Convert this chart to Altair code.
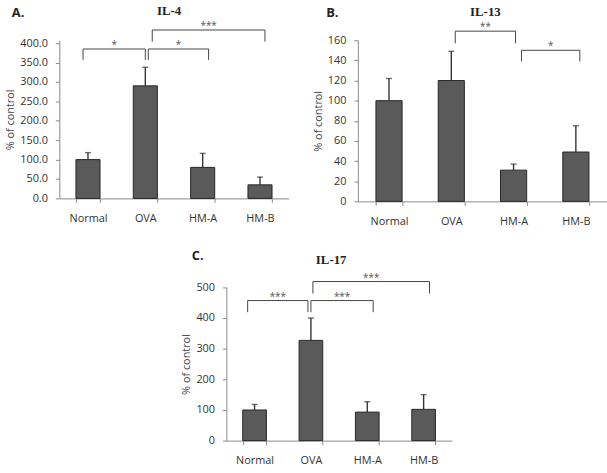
import altair as alt
import pandas as pd

# Treatment groups shown on every panel
groups = ["Normal", "OVA", "HM-A", "HM-B"]

# Cytokine levels (% of control): bar height and top of the error bar
il4_mean = [100, 290, 80, 35]
il4_upper = [118, 338, 116, 55]
il13_mean = [100, 120, 31, 49]
il13_upper = [122, 149, 37, 75]
il17_mean = [100, 327, 93, 102]
il17_upper = [118, 400, 127, 150]

# Y axis tick values
il4_ticks = [0, 50, 100, 150, 200, 250, 300, 350, 400]
il13_ticks = [0, 20, 40, 60, 80, 100, 120, 140, 160]
il17_ticks = [0, 100, 200, 300, 400, 500]

# Significance brackets: (from group, to group, bracket level, leg end, label)
il4_brackets = [
    ("Normal", "OVA", 385, 357, "*"),
    ("OVA", "HM-A", 385, 357, "*"),
    ("OVA", "HM-B", 434, 404, "***"),
]
il13_brackets = [
    ("OVA", "HM-A", 169, 157, "**"),
    ("HM-A", "HM-B", 150, 139, "*"),
]
il17_brackets = [
    ("Normal", "OVA", 457, 419, "***"),
    ("OVA", "HM-A", 457, 419, "***"),
    ("OVA", "HM-B", 519, 480, "***"),
]

# Small horizontal nudges (px) of each bracket's legs so neighbours don't touch
il4_nudges = [(-5, 0), (3, 6), (7, 5)]
il13_nudges = [(4, 2), (8, 4)]
il17_nudges = [(-7, -3), (0, 6), (2, 6)]

BAR_FILL = "#5a5a5a"
BAR_EDGE = "#262626"
INK = "#333333"
AXIS_GREY = "#8a8a8a"
FONT = "Open Sans"


def panel(letter, name, mean, upper, ticks, fmt, y_max, brackets, nudges,
          width, height, title_pos, letter_pos):
    step = width / len(groups)
    df = pd.DataFrame({"group": groups, "mean": mean, "upper": upper})

    x_scale = alt.Scale(domain=groups, paddingInner=0.58, paddingOuter=0.29)
    x_axis = alt.Axis(title=None, labelAngle=0, tickBand="extent",
                      labelPadding=10, tickSize=4)
    y_scale = alt.Scale(domain=[0, y_max], nice=False, zero=True)
    y_axis = alt.Axis(values=ticks, format=fmt, title="% of control",
                      labelPadding=8, tickSize=4, titlePadding=4)

    def X(field):
        return alt.X(field, type="nominal", scale=x_scale, axis=x_axis, sort=groups)

    def Y(field):
        return alt.Y(field, type="quantitative", scale=y_scale, axis=y_axis)

    bars = alt.Chart(df).mark_bar(
        color=BAR_FILL, stroke=BAR_EDGE, strokeWidth=1
    ).encode(x=X("group"), y=Y("mean"))

    whisker = alt.Chart(df).mark_rule(color=INK, strokeWidth=1.4).encode(
        x=X("group"), y=Y("mean"), y2="upper:Q"
    )
    cap = alt.Chart(df).mark_tick(color=INK, size=6, thickness=1.4).encode(
        x=X("group"), y=Y("upper")
    )

    layers = [bars, whisker, cap]

    for (s, e, top, low, lab), (ns, ne) in zip(brackets, nudges):
        bdf = pd.DataFrame({"s": [s], "e": [e], "top": [top], "low": [low], "label": [lab]})
        span = (groups.index(e) - groups.index(s)) * step
        layers.append(
            alt.Chart(bdf).mark_rule(color="#444444", strokeWidth=1,
                                     xOffset=ns, x2Offset=ne)
            .encode(x=X("s"), x2="e:N", y=Y("top"))
        )
        layers.append(
            alt.Chart(bdf).mark_rule(color="#444444", strokeWidth=1, xOffset=ns)
            .encode(x=X("s"), y=Y("top"), y2="low:Q")
        )
        layers.append(
            alt.Chart(bdf).mark_rule(color="#444444", strokeWidth=1, xOffset=ne)
            .encode(x=X("e"), y=Y("top"), y2="low:Q")
        )
        layers.append(
            alt.Chart(bdf).mark_text(font=FONT, fontSize=10, color="#555555",
                                     baseline="alphabetic", dy=-1,
                                     xOffset=span / 2 + (ns + ne) / 2)
            .encode(x=X("s"), y=Y("top"), text="label:N")
        )

    one = pd.DataFrame({"t": [name], "l": [letter]})
    layers.append(
        alt.Chart(one).mark_text(font="Liberation Serif", fontWeight="bold",
                                 fontSize=13, color="#222222")
        .encode(x=alt.value(title_pos[0]), y=alt.value(title_pos[1]), text="t:N")
    )
    layers.append(
        alt.Chart(one).mark_text(font=FONT, fontWeight="bold", fontSize=13,
                                 color="#222222", align="left")
        .encode(x=alt.value(letter_pos[0]), y=alt.value(letter_pos[1]), text="l:N")
    )

    return alt.layer(*layers).properties(width=width, height=height)


# IL-4's frame reaches a little above its top tick so its plot top lines up with IL-13's
chart_a = panel("A.", "IL-4", il4_mean, il4_upper, il4_ticks, ".1f", 407.6,
                il4_brackets, il4_nudges, 232, 160, (111, -30), (-48, -27))
chart_b = panel("B.", "IL-13", il13_mean, il13_upper, il13_ticks, "d", 160,
                il13_brackets, il13_nudges, 252, 163, (129, -29), (-32, -27))
chart_c = panel("C.", "IL-17", il17_mean, il17_upper, il17_ticks, "d", 500,
                il17_brackets, il17_nudges, 228, 155, (106, -28), (-35, -32))

spacer = alt.Chart(pd.DataFrame({"v": [0]})).mark_point(opacity=0).encode(
    x=alt.value(0), y=alt.value(0)
).properties(width=103, height=1)

top_row = alt.hconcat(chart_a, chart_b, spacing=24)
bottom_row = alt.hconcat(spacer, chart_c, spacing=20)

chart = alt.vconcat(top_row, bottom_row, spacing=24).properties(
    padding={"left": 4, "top": 2, "right": 0, "bottom": 0},
    background="white",
).configure_view(stroke=None).configure_axis(
    grid=False,
    labelFont=FONT,
    labelFontSize=11,
    labelColor=INK,
    titleFont=FONT,
    titleFontSize=11,
    titleFontWeight="normal",
    titleColor="#444444",
    domainColor=AXIS_GREY,
    tickColor=AXIS_GREY,
)

chart.save("out.html", embed_options={"renderer": "svg", "actions": False})
